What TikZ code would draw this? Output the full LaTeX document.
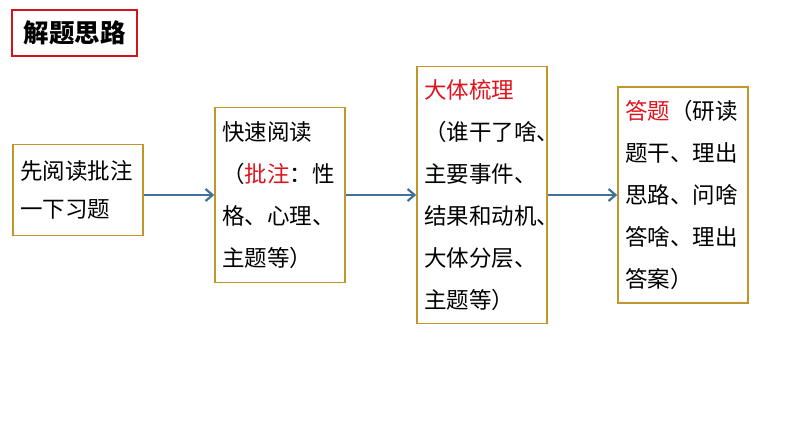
\documentclass[tikz,border=0pt]{standalone}
\usepackage{fontspec}
\setmainfont{Noto Sans CJK SC}
\usepackage{xcolor}
\usetikzlibrary{calc,arrows.meta}
\definecolor{boxline}{RGB}{194,150,44}
\definecolor{flowblue}{RGB}{65,113,156}
\definecolor{keyred}{RGB}{225,20,30}
\definecolor{titlered}{RGB}{210,20,30}

\begin{document}
\begin{tikzpicture}[x=1pt,y=-1pt,
  stepbox/.style={draw=boxline,line width=1.5pt,fill=white,text width=116pt,
    inner xsep=7pt,inner ysep=0pt,align=left,
    font=\fontsize{22.5}{42}\selectfont},
  flow/.style={draw=flowblue,line width=2.6pt,-{Straight Barb[length=7pt,width=12pt,line width=2.2pt]}}]
\useasboundingbox (0,0) rectangle (794,447);
% ---- title
\node[draw=titlered,line width=1.5pt,minimum width=125pt,minimum height=46pt,
  font=\fontsize{25.5}{30}\selectfont\bfseries] (title) at (74.5,33) {解题思路};
% ---- steps
\node[stepbox,minimum height=91pt,font=\fontsize{22.5}{38}\selectfont] (first) at (78,190)
  {先阅读批注\\一下习题};
\node[stepbox,minimum height=175pt] (read) at (280,195)
  {快速阅读\\（\textcolor{keyred}{批注}：性\\格、心理、\\主题等）};
\node[stepbox,minimum height=257pt] (sort) at (482,195)
  {\textcolor{keyred}{大体梳理}\\（谁干了啥、\\主要事件、\\结果和动机、\\大体分层、\\主题等）};
\node[stepbox,minimum height=216pt] (answer) at (683,195)
  {\textcolor{keyred}{答题}（研读\\题干、理出\\思路、问啥\\答啥、理出\\答案）};
% ---- arrows
\draw[flow] (first.east |- read.west) -- (read.west);
\draw[flow] (read.east) -- (sort.west);
\draw[flow] (sort.east) -- (answer.west);
\end{tikzpicture}
\end{document}
